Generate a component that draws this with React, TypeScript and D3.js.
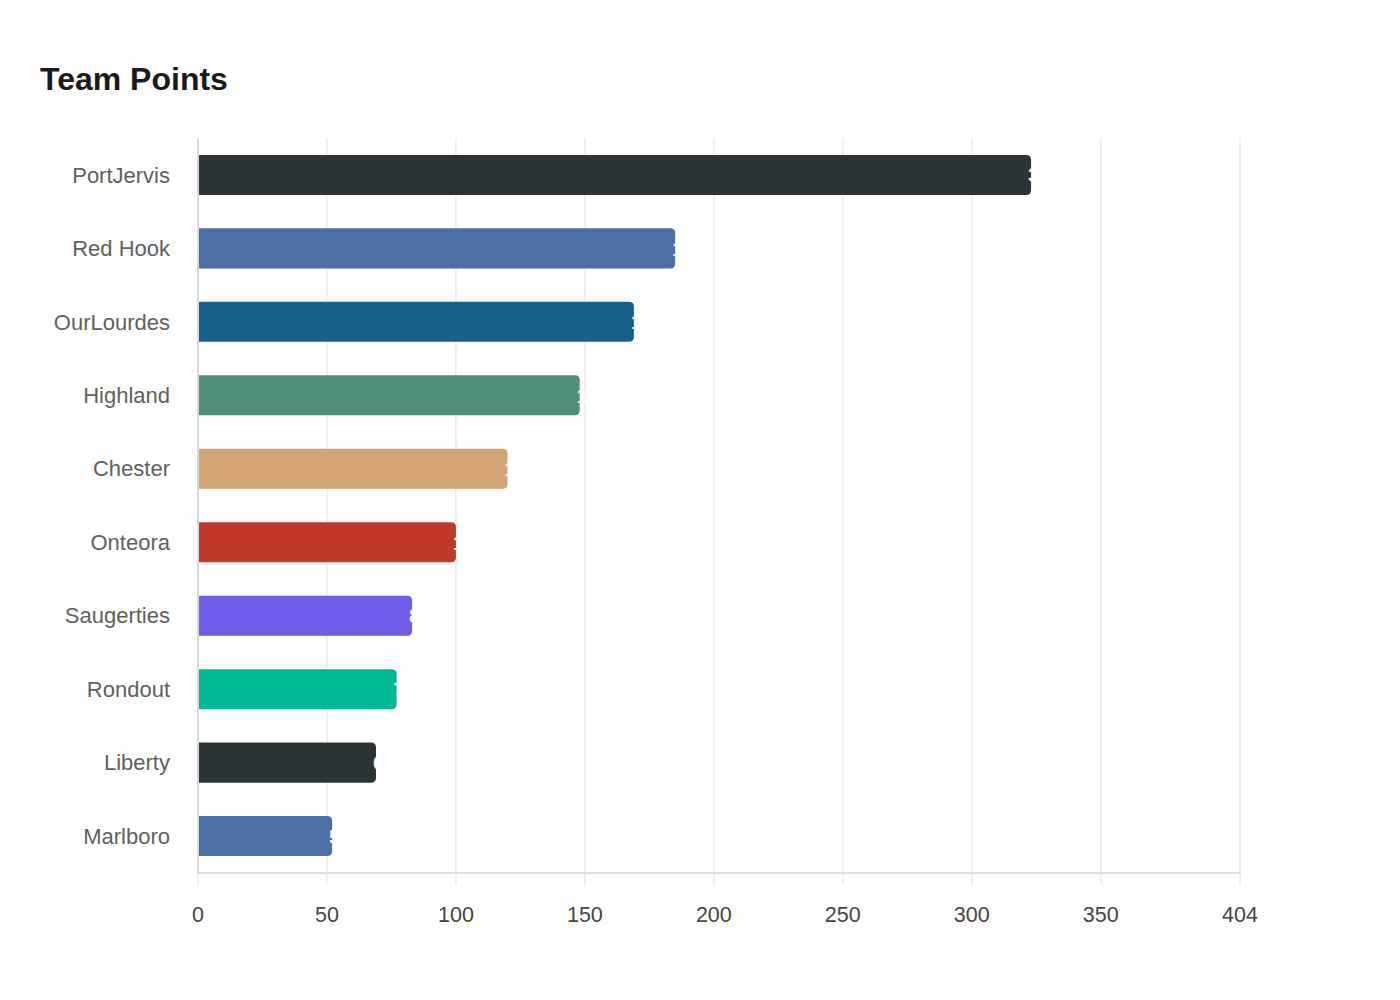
import { useEffect, useRef } from "react";
import * as d3 from "d3";

const teams = [
  "PortJervis",
  "Red Hook",
  "OurLourdes",
  "Highland",
  "Chester",
  "Onteora",
  "Saugerties",
  "Rondout",
  "Liberty",
  "Marlboro",
];
const points = [323, 185, 169, 148, 120, 100, 83, 77, 69, 52];
const colors = [
  "#2d3436",
  "#4a6fa5",
  "#17608a",
  "#4f8f7a",
  "#d4a574",
  "#c0392b",
  "#6c5ce7",
  "#00b894",
  "#2d3436",
  "#4a6fa5",
];
const xTicks = [0, 50, 100, 150, 200, 250, 300, 350, 404];

const App = () => {
  const svgRef = useRef<SVGSVGElement>(null);

  useEffect(() => {
    if (!svgRef.current) return;
    d3.select(svgRef.current).selectAll("*").remove();

    const width = 1400;
    const height = 1000;
    const margin = { top: 138, right: 160, bottom: 127, left: 198 };
    const innerWidth = width - margin.left - margin.right;
    const innerHeight = height - margin.top - margin.bottom;

    const svg = d3.select(svgRef.current)
      .attr("width", width)
      .attr("height", height)
      .style("display", "block")
      .style("margin", "-8px")
      .style("font-family", "'Liberation Sans', Arial, sans-serif");

    svg.append("text")
      .attr("x", 40)
      .attr("y", 90)
      .style("font-size", "32px")
      .style("font-weight", "700")
      .style("fill", "#1a1a1a")
      .text("Team Points");

    const g = svg.append("g")
      .attr("transform", `translate(${margin.left},${margin.top})`);

    const maxX = 404;
    const x = d3.scaleLinear().domain([0, maxX]).range([0, innerWidth]);
    const y = d3.scaleBand().domain(teams).range([0, innerHeight]).paddingInner(0.455).paddingOuter(0.23);

    // Grid lines
    g.selectAll(".grid")
      .data(xTicks)
      .join("line")
      .attr("class", "grid")
      .attr("x1", d => x(d))
      .attr("x2", d => x(d))
      .attr("y1", 0)
      .attr("y2", innerHeight + 12)
      .attr("stroke", "#ebebeb")
      .attr("stroke-width", 1.5);

    // x axis line
    g.append("line")
      .attr("x1", 0)
      .attr("x2", innerWidth + 1)
      .attr("y1", innerHeight)
      .attr("y2", innerHeight)
      .attr("stroke", "#e0e0e0")
      .attr("stroke-width", 2);

    // y axis line
    g.append("line")
      .attr("x1", 0)
      .attr("x2", 0)
      .attr("y1", 0)
      .attr("y2", innerHeight)
      .attr("stroke", "#cfd3d6")
      .attr("stroke-width", 1.5);

    g.selectAll(".xlabel")
      .data(xTicks)
      .join("text")
      .attr("class", "xlabel")
      .attr("x", d => x(d))
      .attr("y", innerHeight + 49)
      .attr("text-anchor", "middle")
      .style("font-size", "21.5px")
      .style("fill", "#444")
      .text(d => d);

    g.selectAll(".ylabel")
      .data(teams)
      .join("text")
      .attr("class", "ylabel")
      .attr("x", -28)
      .attr("y", d => y(d)! + y.bandwidth() / 2)
      .attr("dy", "0.35em")
      .attr("text-anchor", "end")
      .style("font-size", "22px")
      .style("fill", "#606060")
      .text(d => d);

    // Bars with rounded right end
    const r = 5;
    const bh = y.bandwidth();
    g.selectAll(".bar")
      .data(teams)
      .join("path")
      .attr("class", "bar")
      .attr("d", (d, i) => {
        const x0 = 1;
        const x1 = x(points[i]);
        const y0 = y(d)!;
        return `M${x0},${y0} H${x1 - r} Q${x1},${y0} ${x1},${y0 + r} V${y0 + bh - r} Q${x1},${y0 + bh} ${x1 - r},${y0 + bh} H${x0} Z`;
      })
      .attr("fill", (_, i) => colors[i]);

    // Value labels (white, mostly off the bar)
    g.selectAll(".value")
      .data(teams)
      .join("text")
      .attr("class", "value")
      .attr("x", (_, i) => x(points[i]) - 3)
      .attr("y", d => y(d)! + bh / 2)
      .attr("dy", "0.36em")
      .attr("text-anchor", "start")
      .style("font-size", "21px")
      .style("font-weight", "700")
      .style("fill", "#fff")
      .text((_, i) => points[i]);
  }, []);

  return <svg ref={svgRef}></svg>;
};

export default App;
